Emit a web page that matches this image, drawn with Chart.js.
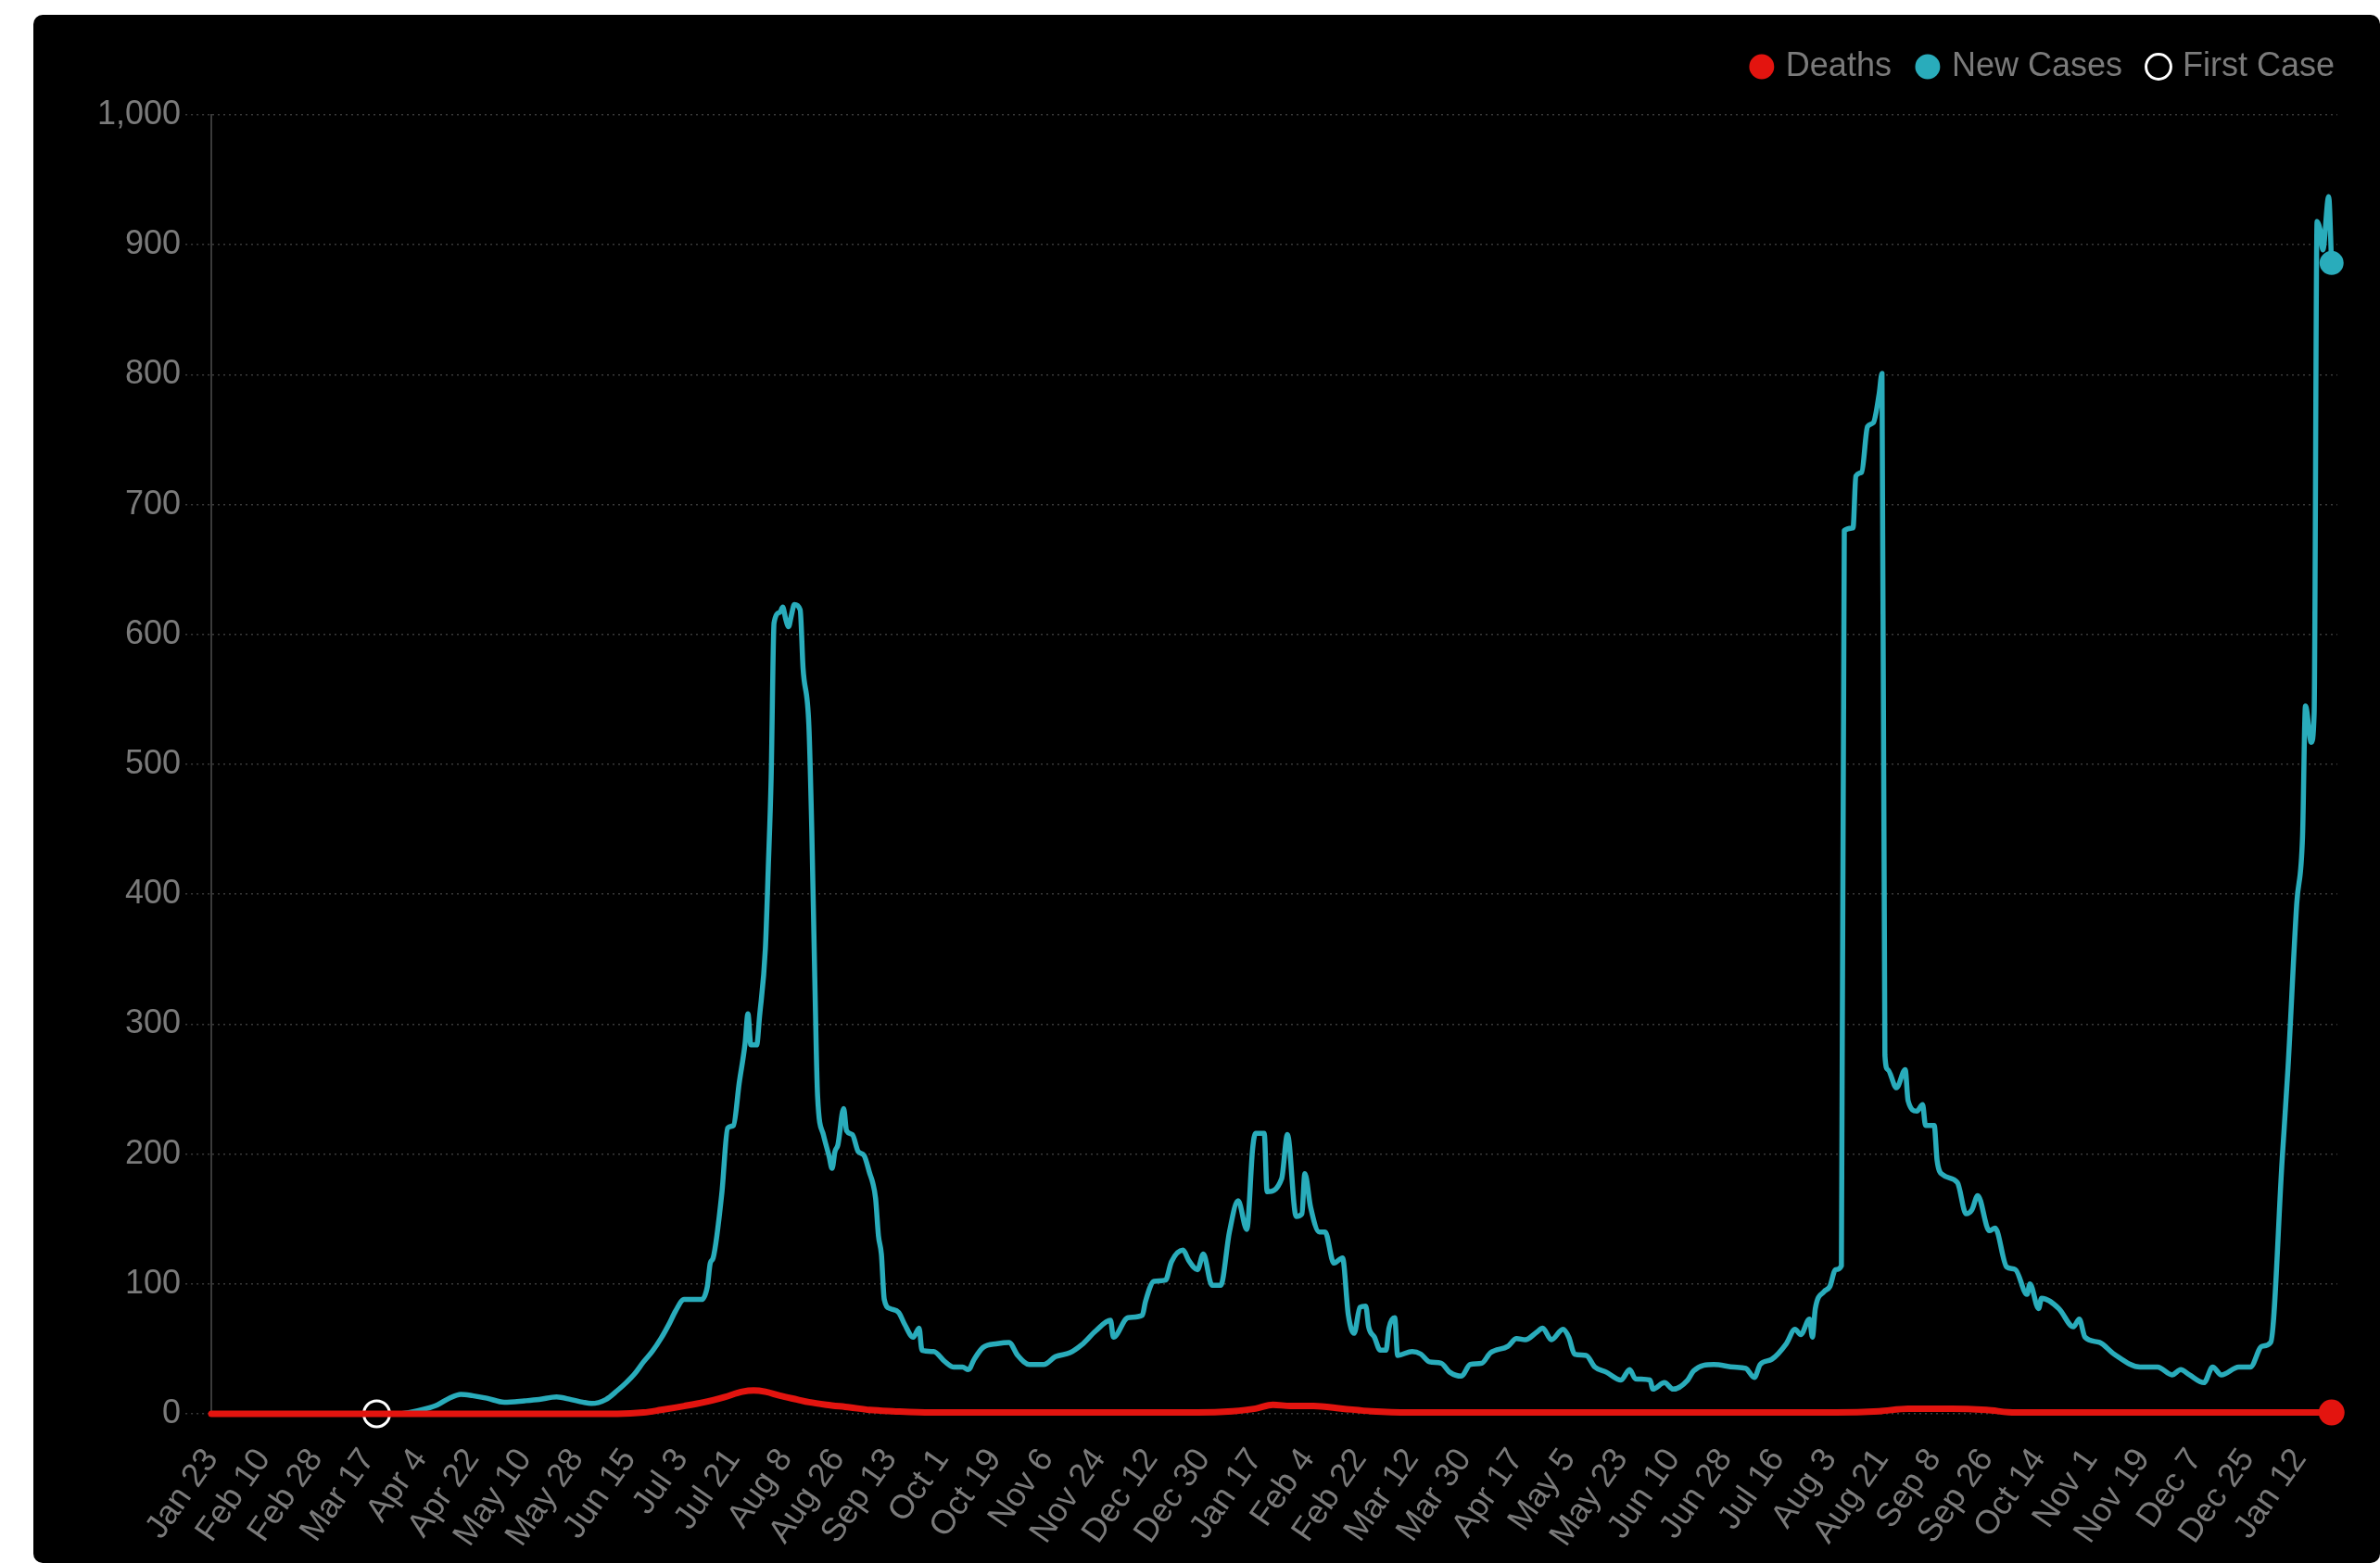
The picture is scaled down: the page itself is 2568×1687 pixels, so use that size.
<!DOCTYPE html>
<html>
<head>
<meta charset="utf-8">
<title>New Cases and Deaths</title>
<script src="https://cdn.jsdelivr.net/npm/chart.js@4.4.1/dist/chart.umd.min.js"></script>
<style>
  html, body { margin: 0; padding: 0; background: #fff; overflow: hidden; }
  #frame { position: absolute; left: 36px; top: 16px; right: 0; bottom: 0; background: #000; border-radius: 10px; }
</style>
</head>
<body>
<div id="frame"><canvas id="casesChart"></canvas></div>
<script>
// x axis labels, one every 18 days starting Jan 23 2020
const tickLabels = ['Jan 23', 'Feb 10', 'Feb 28', 'Mar 17', 'Apr 4', 'Apr 22', 'May 10', 'May 28', 'Jun 15', 'Jul 3',
  'Jul 21', 'Aug 8', 'Aug 26', 'Sep 13', 'Oct 1', 'Oct 19', 'Nov 6', 'Nov 24', 'Dec 12', 'Dec 30',
  'Jan 17', 'Feb 4', 'Feb 22', 'Mar 12', 'Mar 30', 'Apr 17', 'May 5', 'May 23', 'Jun 10', 'Jun 28',
  'Jul 16', 'Aug 3', 'Aug 21', 'Sep 8', 'Sep 26', 'Oct 14', 'Nov 1', 'Nov 19', 'Dec 7', 'Dec 25', 'Jan 12'];
const tickStep = 18;
const lastDay = 733;

// new cases (day since Jan 23 2020, value)
const caseDays = [0, 57, 64, 68, 74, 78, 82, 86, 90, 95, 101, 108, 113, 119, 124, 128, 131, 136, 140, 143,
  146, 149, 152, 155, 158, 160, 163, 169, 171, 172, 173, 176, 178, 180, 182, 184, 185, 186, 188, 189,
  191, 192, 193, 194, 196, 197, 198, 199, 200, 201, 203, 204, 206, 207, 208, 209, 211, 213, 214, 215,
  216, 218, 219, 221, 223, 225, 227, 228, 229, 230, 231, 232, 234, 237, 239, 242, 244, 245, 249, 253,
  256, 259, 261, 263, 266, 271, 275, 278, 282, 287, 291, 296, 300, 305, 310, 311, 316, 321, 322, 325,
  329, 331, 335, 337, 340, 342, 345, 348, 351, 354, 357, 359, 360, 363, 364, 369, 371, 374, 376, 377,
  379, 382, 384, 387, 390, 392, 394, 396, 398, 399, 401, 403, 405, 406, 408, 409, 414, 417, 420, 424,
  427, 431, 434, 438, 441, 447, 450, 453, 457, 459, 462, 466, 468, 470, 474, 477, 481, 486, 489, 491,
  496, 497, 501, 504, 509, 511, 518, 525, 529, 532, 534, 538, 543, 546, 548, 551, 552, 553, 556, 558,
  560, 562, 563, 566, 567, 569, 571, 573, 575, 576, 577, 578, 581, 584, 585, 588, 590, 591, 594, 595,
  597, 602, 605, 607, 609, 613, 615, 619, 622, 626, 627, 630, 631, 637, 642, 644, 646, 651, 656, 665,
  671, 676, 679, 682, 687, 690, 693, 699, 703, 707, 710, 714, 716, 719, 721, 722, 724, 725, 726, 727,
  728, 730, 731];
const caseValues = [0, 0, 0, 1, 4, 7, 12, 15, 14, 12, 9, 10, 11, 13, 11, 9, 8, 11, 18, 24,
  31, 40, 48, 58, 70, 79, 88, 88, 98, 116, 120, 170, 220, 222, 255, 285, 308, 284, 284, 306,
  358, 420, 490, 609, 617, 621, 612, 606, 615, 623, 619, 574, 530, 450, 340, 245, 215, 198, 189, 202,
  207, 235, 218, 215, 202, 199, 185, 178, 166, 137, 123, 88, 81, 78, 69, 59, 66, 49, 48, 40,
  36, 36, 34, 42, 51, 54, 55, 45, 38, 38, 44, 47, 53, 64, 72, 59, 74, 76, 86, 102,
  103, 117, 126, 118, 111, 123, 99, 99, 140, 164, 142, 204, 216, 216, 171, 181, 215, 152, 154, 185,
  159, 140, 140, 116, 120, 76, 62, 82, 83, 67, 59, 49, 49, 66, 74, 45, 48, 46, 40, 39,
  32, 29, 38, 39, 47, 52, 58, 57, 63, 66, 57, 65, 59, 46, 45, 36, 32, 26, 34, 27,
  26, 19, 24, 19, 26, 33, 38, 36, 35, 28, 38, 42, 54, 65, 61, 73, 59, 81, 94, 98,
  111, 114, 680, 682, 722, 725, 760, 763, 785, 801, 276, 265, 251, 265, 241, 233, 238, 222, 222, 195,
  184, 178, 154, 157, 168, 141, 143, 113, 111, 92, 100, 81, 89, 81, 67, 73, 59, 55, 46, 36,
  36, 30, 34, 30, 24, 36, 30, 36, 36, 52, 55, 197, 267, 393, 445, 545, 517, 539, 918, 912,
  896, 937, 886];

// deaths
const deathDays = [0, 140, 149, 155, 163, 170, 177, 183, 187, 191, 196, 202, 206, 212, 220, 227, 235, 248, 300, 340,
  352, 360, 366, 372, 380, 390, 400, 413, 560, 575, 585, 600, 612, 622, 650, 731];
const deathValues = [0, 0, 1, 3, 6, 9, 13, 17, 18, 17, 14, 11, 9, 7, 5, 3, 2, 1, 1, 1,
  2, 4, 7, 6, 6, 4, 2, 1, 1, 2, 4, 4, 3, 1, 1, 1];

// first reported case
const firstCaseDays = [57];
const firstCaseValues = [0];

const textColor = '#7a7a7a';
const gridColor = '#3a3a3a';

function toPoints(days, values) {
    return days.map((d, i) => ({ x: d, y: values[i] }));
}

Chart.defaults.font.family = "'Liberation Sans', Arial, Helvetica, sans-serif";

// extra room under the legend
const legendSpacer = {
    id: 'legendSpacer',
    beforeInit(chart) {
        const originalFit = chart.legend.fit;
        chart.legend.fit = function fit() {
            originalFit.call(this);
            this.height += 24;
        };
    }
};

var ctx = document.getElementById('casesChart').getContext('2d');

const casesChart = new Chart(ctx, {
    type: 'line',
    data: {
        datasets: [{
            label: 'Deaths',
            data: toPoints(deathDays, deathValues),
            borderColor: '#e3140f',
            borderWidth: 7,
            pointBackgroundColor: '#e3140f',
            pointBorderWidth: 0,
            pointRadius: c => c.dataIndex === deathDays.length - 1 ? 14 : 0,
            cubicInterpolationMode: 'monotone',
            borderJoinStyle: 'round',
            borderCapStyle: 'round',
            clip: false
        }, {
            label: 'New Cases',
            data: toPoints(caseDays, caseValues),
            borderColor: '#29acbb',
            borderWidth: 5.5,
            pointBackgroundColor: '#29acbb',
            pointBorderWidth: 0,
            pointRadius: c => c.dataIndex === caseDays.length - 1 ? 13 : 0,
            cubicInterpolationMode: 'monotone',
            borderJoinStyle: 'round',
            borderCapStyle: 'round',
            clip: false
        }, {
            label: 'First Case',
            data: toPoints(firstCaseDays, firstCaseValues),
            showLine: false,
            pointRadius: 14,
            pointBorderWidth: 3,
            pointBorderColor: '#ffffff',
            pointBackgroundColor: 'rgba(0,0,0,0)',
            clip: false
        }]
    },
    options: {
        responsive: true,
        maintainAspectRatio: false,
        animation: false,
        layout: {
            padding: { left: 64, top: 7, right: 18, bottom: 12 }
        },
        plugins: {
            legend: {
                position: 'top',
                align: 'end',
                labels: {
                    usePointStyle: true,
                    boxWidth: 16,
                    boxHeight: 19,
                    padding: 31,
                    color: textColor,
                    font: { size: 36 }
                }
            },
            tooltip: { enabled: false }
        },
        scales: {
            x: {
                type: 'linear',
                min: 0,
                max: lastDay,
                grid: { display: false, drawTicks: false },
                border: { display: false },
                afterBuildTicks: axis => {
                    axis.ticks = tickLabels.map((_, i) => ({ value: i * tickStep }));
                },
                afterFit: scale => { scale.height = 149; },
                ticks: {
                    autoSkip: false,
                    minRotation: 55,
                    maxRotation: 55,
                    padding: 30,
                    color: textColor,
                    font: { size: 36 },
                    callback: value => tickLabels[Math.round(value / tickStep)]
                }
            },
            y: {
                min: 0,
                max: 1000,
                ticks: {
                    stepSize: 100,
                    padding: 5,
                    color: textColor,
                    font: { size: 36 }
                },
                grid: {
                    color: gridColor,
                    lineWidth: 1.5,
                    tickLength: 28,
                    tickColor: gridColor,
                    tickBorderDash: [2, 4]
                },
                border: { display: true, color: gridColor, width: 2, dash: [2, 4] }
            },
            yRight: {
                position: 'right',
                display: true,
                grid: { display: false, drawTicks: false },
                border: { display: false },
                ticks: { display: false },
                afterFit: scale => { scale.width = 28; }
            }
        }
    },
    plugins: [legendSpacer]
});
</script>
</body>
</html>
